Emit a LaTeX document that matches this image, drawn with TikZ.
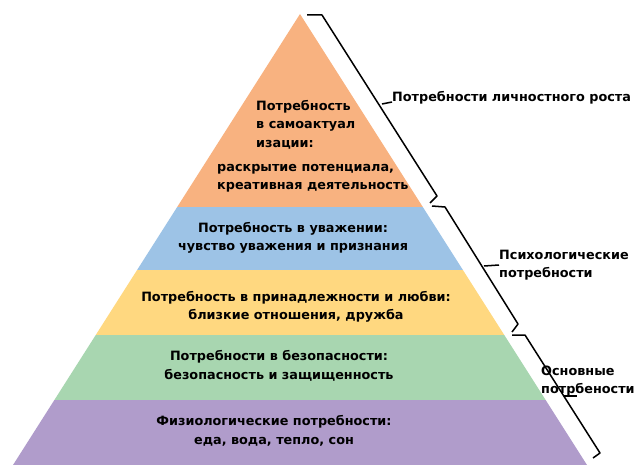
\documentclass[tikz,border=0pt]{standalone}
\usepackage{fontspec}
\setmainfont{DejaVu Sans}
\definecolor{selfcol}{RGB}{248,178,128}
\definecolor{esteemcol}{RGB}{157,195,230}
\definecolor{lovecol}{RGB}{255,216,128}
\definecolor{safecol}{RGB}{168,214,176}
\definecolor{physcol}{RGB}{176,156,203}
\begin{document}
\begin{tikzpicture}[x=1pt, y=-1pt,
  font=\bfseries\fontsize{12.8}{18.5}\selectfont,
  level/.style={align=center, inner sep=0pt},
  brace/.style={line width=1.5pt, line join=round}]

\useasboundingbox (0,0) rectangle (640,476);

% pyramid
\begin{scope}
\clip (300,14) -- (587,465) -- (13,465) -- cycle;
\fill[selfcol]   (0,0)   rectangle (640,207);
\fill[esteemcol] (0,207) rectangle (640,270);
\fill[lovecol]   (0,270) rectangle (640,335);
\fill[safecol]   (0,335) rectangle (640,400);
\fill[physcol]   (0,400) rectangle (640,465);
\end{scope}

\node(self1)[level, align=left, anchor=north west] at (256, 100) {Потребность\\в самоактуал\\изации:};
\node(self2)[level, align=left, anchor=north west] at (217, 164) {раскрытие потенциала,\\креативная деятельность};
\node(esteem)[level] at (293, 238) {Потребность в уважении:\\чувство уважения и признания};
\node(love)[level] at (296, 307) {Потребность в принадлежности и любви:\\близкие отношения, дружба};
\node(safe)[level] at (279, 366) {Потребности в безопасности:\\безопасность и защищенность};
\node(phys)[level] at (274, 431) {Физиологические потребности:\\еда, вода, тепло, сон};

% brackets
\coordinate(g0) at (307,15);
\coordinate(g1) at (322,15);
\coordinate(gm) at (382,104);
\coordinate(g2) at (437,196);
\coordinate(g3) at (430,203);
\node(grow)[anchor=base west, inner sep=0pt] at (392,102) {Потребности личностного роста};
\draw[brace] (g0) -- (g1) -- (g2) -- (g3);
\draw[brace] (gm) -- (grow.base west);

\coordinate(p0) at (432,206);
\coordinate(p1) at (445,207);
\coordinate(pm) at (484,266);
\coordinate(p2) at (518,324);
\coordinate(p3) at (512,332);
\node(psy)[anchor=west, align=left, inner sep=0pt] at (499,265) {Психологические\\потребности};
\draw[brace] (p0) -- (p1) -- (p2) -- (p3);
\draw[brace] (pm) -- (psy.west);

\coordinate(b0) at (512,335);
\coordinate(b1) at (525,335);
\coordinate(bm) at (564,396);
\coordinate(b2) at (600,453);
\coordinate(b3) at (593,458);
\coordinate(bt) at (577,396);
\draw[brace] (b0) -- (b1) -- (b2) -- (b3);
\draw[brace] (bm) -- (bt);
\node(basic)[anchor=west, align=left, inner sep=0pt] at (541,381) {Основные\\потрбености};

\end{tikzpicture}
\end{document}
